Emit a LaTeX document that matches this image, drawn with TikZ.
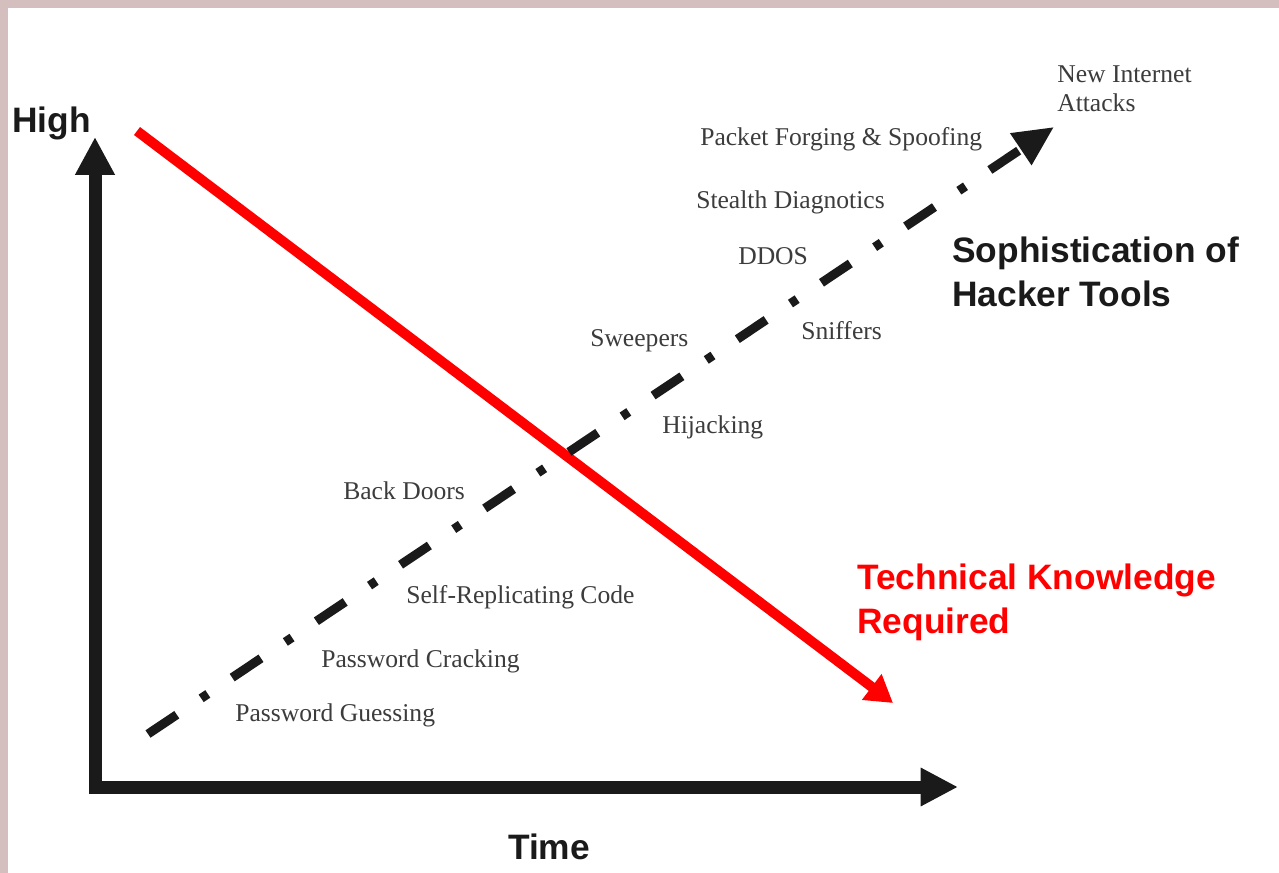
\documentclass[tikz,border=0pt]{standalone}
\usepackage{fontspec}
\setmainfont{Liberation Serif}
\newfontfamily\labelfont{Liberation Sans}
\usetikzlibrary{arrows.meta}
\definecolor{frame}{HTML}{D4BEBE}
\definecolor{ink}{HTML}{1A1A1A}
\definecolor{itemgray}{HTML}{3C3C3C}
\definecolor{knowred}{HTML}{FF0000}
\tikzset{
  axisline/.style={draw=ink, line width=9.75pt, line join=miter,
    {Triangle[length=28.5pt,width=28pt]}-{Triangle[length=28pt,width=27pt]}},
  knowline/.style={draw=knowred, line width=7.5pt,
    -{Triangle[length=20pt,width=23pt]}},
  toolline/.style={draw=ink, line width=6.75pt,
    dash pattern=on 26pt off 22pt on 6pt off 22pt,
    -{Triangle[length=30pt,width=27pt]}},
  item/.style={anchor=west, inner sep=0pt, text=itemgray,
    font=\fontsize{19.2pt}{22pt}\selectfont, align=left},
  biglabel/.style={anchor=west, inner sep=0pt,
    font=\labelfont\bfseries\fontsize{26.5pt}{33pt}\selectfont, align=left},
}
\begin{document}
\begin{tikzpicture}[x=0.75pt,y=-0.75pt]
  % page with its frame on the left and top
  \fill[frame] (0,0) rectangle (1279,873);
  \fill[white] (8,8) rectangle (1279,873);
  \useasboundingbox (0,0) rectangle (1279,873);

  % axes
  \coordinate (ytip) at (95,137);
  \coordinate (origin) at (95,787);
  \coordinate (xtip) at (958,787);
  \draw[axisline] (ytip) -- (origin) -- (xtip);

  \node[biglabel, text=ink] (high) at (12,123) {High};
  \node[biglabel, text=ink, anchor=center] (time) at (549,847) {Time};

  % technical knowledge required
  \coordinate (kstart) at (137,131);
  \coordinate (kend) at (893,703);
  \draw[knowline] (kstart) -- (kend);

  % sophistication of hacker tools
  \coordinate (tstart) at (148,734);
  \coordinate (tend) at (1054,127);
  \draw[toolline] (tstart) -- (tend);

  \node[biglabel, text=ink] (soph) at (952,272) {Sophistication of\\Hacker Tools};
  \node[biglabel, text=knowred] (tech) at (857,602) {Technical Knowledge\\Required};

  % attack techniques
  \node[item] (newatt) at (1057,89) {New Internet\\Attacks};
  \node[item] (packet) at (700,139) {Packet Forging \& Spoofing};
  \node[item] (stealth) at (696,202) {Stealth Diagnotics};
  \node[item] (ddos) at (738,256) {DDOS};
  \node[item] (sniff) at (801,331) {Sniffers};
  \node[item] (sweep) at (590,341) {Sweepers};
  \node[item] (hijack) at (662,427) {Hijacking};
  \node[item] (back) at (343,491) {Back Doors};
  \node[item] (selfrep) at (406,597) {Self-Replicating Code};
  \node[item] (crack) at (321,661) {Password Cracking};
  \node[item] (guess) at (235,715) {Password Guessing};
\end{tikzpicture}
\end{document}
